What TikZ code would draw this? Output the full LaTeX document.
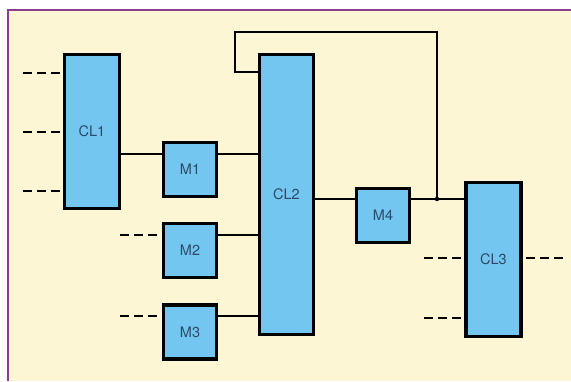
\documentclass[tikz,border=0pt]{standalone}
\usepackage{fontspec}
\setmainfont{TeX Gyre Heros}
\usepackage{xcolor}
\usetikzlibrary{positioning, calc}

\definecolor{cream}{HTML}{FDF6D4}
\definecolor{framepurple}{HTML}{8E3C8E}
\definecolor{blockblue}{HTML}{72C6F0}
\definecolor{labelblue}{HTML}{2E4A68}

\tikzset{
    block/.style={draw=black, line width=3.2pt, fill=blockblue, text=labelblue,
        font=\fontsize{14.5}{16}\selectfont, inner sep=0pt},
    logic/.style={block, minimum width=55pt, minimum height=154pt},
    mem/.style={block, minimum width=53pt, minimum height=54pt},
    wire/.style={line width=1.6pt},
    stub/.style={line width=1.7pt, dash pattern=on 9pt off 5pt}
}

\begin{document}
\begin{tikzpicture}[x=1pt,y=-1pt]
        \useasboundingbox (0,0) rectangle (571,381);
        % Background and frame
        \fill[white] (0,0) rectangle (571,381);
        \fill[cream] (8,10) rectangle (571,381);
        \draw[framepurple, line width=2.5pt] (8,381) -- (8,10) -- (571,10);

        % Blocks
        \node[logic] (CL1) at (92,131.5) {CL1};
        \node[block, minimum width=54pt, minimum height=280pt] (CL2) at (286.5,194.5) {CL2};
        \node[logic] (CL3) at (493.5,259.5) {CL3};
        \node[mem] (M1) at (190,169.5) {M1};
        \node[mem] (M2) at (190,250.5) {M2};
        \node[mem] (M3) at (190,332) {M3};
        \node[mem] (M4) at (383,215.5) {M4};

        % Rows of the wires
        \coordinate (r1) at (0,154);
        \coordinate (r2) at (0,235);
        \coordinate (r3) at (0,316);
        \coordinate (r4) at (0,199);
        \coordinate (fb) at (0,72);

        % Wires
        \draw[wire] (CL1.east |- r1) -- (M1.west |- r1);
        \draw[wire] (M1.east |- r1) -- (CL2.west |- r1);
        \draw[wire] (M2.east |- r2) -- (CL2.west |- r2);
        \draw[wire] (M3.east |- r3) -- (CL2.west |- r3);
        \draw[wire] (CL2.east |- r4) -- (M4.west |- r4);
        \draw[wire] (M4.east |- r4) -- (CL3.west |- r4);

        % Feedback loop
        \coordinate (tap) at (437,199);
        \draw[wire] (tap) -- (437,32) -- (235,32) -- (235,72) -- (CL2.west |- fb);
        \fill (tap) circle (2.2pt);

        % Dashed stubs
        \foreach \y in {73,132,191} {
            \coordinate (in\y) at (23,\y);
            \draw[stub] (in\y) -- (CL1.west |- in\y);
        }
        \foreach \m/\y in {M2/235,M3/316} {
            \coordinate (s\m) at (120,\y);
            \draw[stub] (s\m) -- (\m.west |- s\m);
        }
        \foreach \y in {258,318} {
            \coordinate (c\y) at (424,\y);
            \draw[stub] (c\y) -- (CL3.west |- c\y);
        }
        \coordinate (out) at (563,258);
        \draw[stub] (out) -- (CL3.east |- out);
    \end{tikzpicture}
\end{document}
